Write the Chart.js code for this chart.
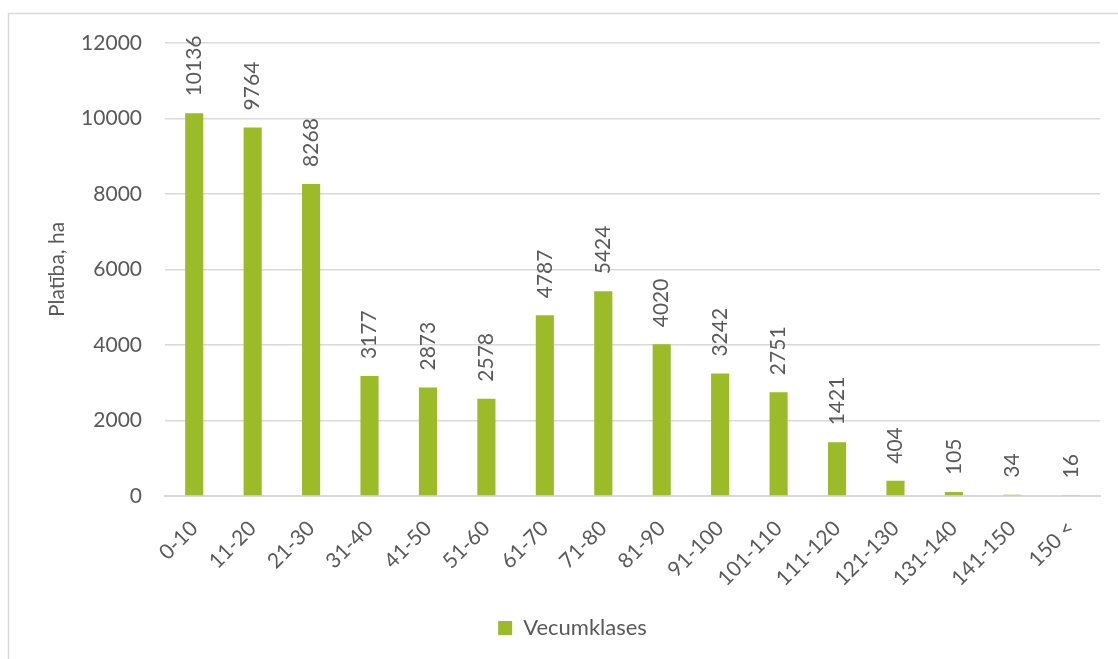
<!DOCTYPE html>
<html>
<head>
<meta charset="utf-8">
<script src="https://cdn.jsdelivr.net/npm/chart.js@4/dist/chart.umd.min.js"></script>
<style>
  html, body { margin: 0; padding: 0; background: #fff; }
  #wrap { width: 1118px; height: 659px; position: relative; }
</style>
</head>
<body>
<div id="wrap"><canvas id="vecums"></canvas></div>
<script>
'use strict'

// vecumklases un platība
const classes = ['0-10', '11-20', '21-30', '31-40', '41-50', '51-60', '61-70', '71-80',
  '81-90', '91-100', '101-110', '111-120', '121-130', '131-140', '141-150', '150 <'];
const area = [10136, 9764, 8268, 3177, 2873, 2578, 4787, 5424,
  4020, 3242, 2751, 1421, 404, 105, 34, 16];
const yTicks = [0, 2000, 4000, 6000, 8000, 10000, 12000];

const textColor = '#595959';
const font = 'Lato, "Noto Sans", sans-serif';
const fs = 21;

// rāmis ap diagrammu
const framePlugin = {
  id: 'frame',
  beforeDraw(chart) {
    const c = chart.ctx;
    c.save();
    c.fillStyle = '#fff';
    c.fillRect(0, 0, chart.width, chart.height);
    c.strokeStyle = '#d9d9d9';
    c.lineWidth = 1.5;
    c.strokeRect(8.5, 13.5, 1300, 800);
    c.restore();
  }
};

// vērtības virs stabiņiem
const labelPlugin = {
  id: 'valueLabels',
  afterDatasetsDraw(chart) {
    const c = chart.ctx;
    const meta = chart.getDatasetMeta(0);
    c.save();
    c.fillStyle = textColor;
    c.font = fs + 'px ' + font;
    c.textAlign = 'left';
    c.textBaseline = 'middle';
    meta.data.forEach(function (bar, i) {
      c.save();
      c.translate(bar.x, bar.y - 17);
      c.rotate(-Math.PI / 2);
      c.fillText(String(area[i]), 0, 0);
      c.restore();
    });
    c.restore();
  }
};

const ctx = document.getElementById('vecums').getContext('2d');
const chart = new Chart(ctx, {
  type: 'bar',
  data: {
    labels: classes,
    datasets: [{
      label: 'Vecumklases',
      data: area,
      backgroundColor: '#9bbb29',
      borderWidth: 0,
      categoryPercentage: 1,
      barPercentage: 0.31
    }]
  },
  options: {
    responsive: true,
    maintainAspectRatio: false,
    animation: false,
    layout: { padding: { top: 43, right: 18, bottom: 10, left: 45 } },
    scales: {
      x: {
        grid: { display: false },
        border: { color: '#d9d9d9', width: 2 },
        ticks: {
          color: textColor,
          font: { family: font, size: fs },
          maxRotation: 45,
          minRotation: 45,
          padding: 12
        },
        afterFit(s) { s.height = 111; }
      },
      y: {
        min: 0,
        max: 12000,
        afterBuildTicks(s) { s.ticks = yTicks.map(v => ({ value: v })); },
        grid: { color: '#d9d9d9', lineWidth: 1.5, drawTicks: false },
        border: { display: false },
        ticks: {
          color: textColor,
          font: { family: font, size: fs },
          padding: 23,
          callback: v => String(v)
        },
        title: {
          display: true,
          text: 'Platība, ha',
          color: textColor,
          font: { family: font, size: fs },
          padding: { top: 0, bottom: 0 }
        },
        afterFit(s) { s.width = 120; }
      }
    },
    plugins: {
      legend: {
        position: 'bottom',
        labels: {
          color: textColor,
          font: { family: font, size: 22 },
          boxWidth: 14,
          boxHeight: 14,
          padding: 10
        }
      },
      tooltip: { enabled: false }
    }
  },
  plugins: [framePlugin, labelPlugin]
});
</script>
</body>
</html>
